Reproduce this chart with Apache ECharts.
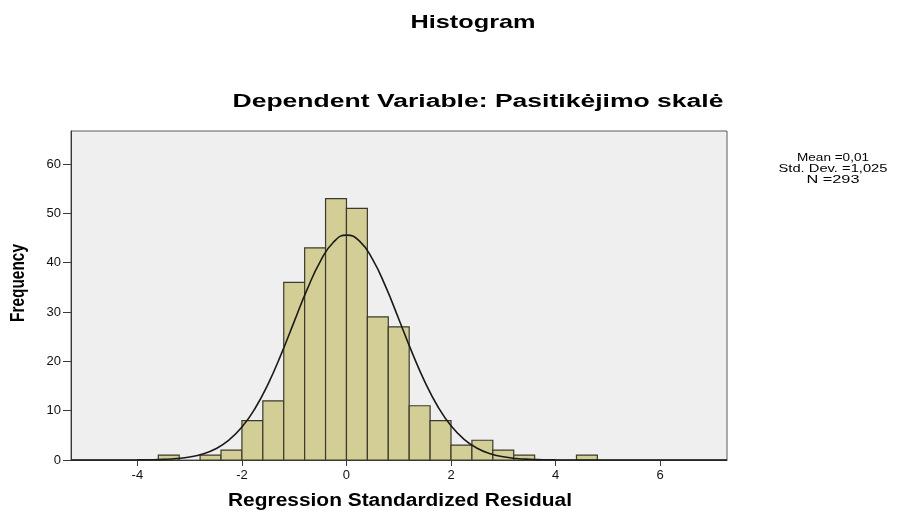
<!DOCTYPE html>
<html><head><meta charset="utf-8">
<script src="https://cdn.jsdelivr.net/npm/echarts@6/dist/echarts.min.js"></script>
<style>html,body{margin:0;padding:0;background:#fff}#c{width:908px;height:511px}</style>
</head><body><div id="c"></div>
<script>
// ---- data ----
const binStart  = [-3.6, -2.8, -2.4, -2.0, -1.6, -1.2, -0.8, -0.4, 0.0, 0.4, 0.8, 1.2, 1.6, 2.0, 2.4, 2.8, 3.2, 4.4];
const binEnd    = [-3.2, -2.4, -2.0, -1.6, -1.2, -0.8, -0.4, 0.0, 0.4, 0.8, 1.2, 1.6, 2.0, 2.4, 2.8, 3.2, 3.6, 4.8];
const frequency = [1, 1, 2, 8, 12, 36, 43, 53, 51, 29, 27, 11, 8, 3, 4, 2, 1, 1];

// normal curve
const curveX = [-5.27, -4.5, -4.25, -4.0, -3.75, -3.5, -3.25, -3.0, -2.75, -2.5, -2.25, -2.0, -1.75, -1.5, -1.25, -1.0, -0.75, -0.5, -0.25, 0.0,
                0.25, 0.5, 0.75, 1.0, 1.25, 1.5, 1.75, 2.0, 2.25, 2.5, 2.75, 3.0, 3.25, 3.5, 3.75, 4.0, 4.25, 4.5, 7.28];
const curveY = [0, 0.003, 0.008, 0.02, 0.05, 0.13, 0.29, 0.61, 1.22, 2.28, 4.01, 6.67, 10.44, 15.40, 21.42, 28.06, 34.64, 40.29, 44.15, 45.6,
                44.37, 40.67, 35.14, 28.60, 21.93, 15.85, 10.79, 6.93, 4.19, 2.39, 1.28, 0.65, 0.31, 0.14, 0.06, 0.02, 0.008, 0.003, 0];

const xTicks = [-4, -2, 0, 2, 4, 6];
const yTicks = [0, 10, 20, 30, 40, 50, 60];
const chartTitle = 'Histogram';
const chartSubtitle = 'Dependent Variable: Pasitikėjimo skalė';
const xAxisTitle = 'Regression Standardized Residual';
const yAxisTitle = 'Frequency';
const statsLines = ['Mean =0,01', 'Std. Dev. =1,025', 'N =293'];

// ---- rendering ----
const FONT = '"Liberation Sans", Arial, Helvetica, sans-serif';
const mctx = document.createElement('canvas').getContext('2d');
function measure(text, font) { mctx.font = font; return mctx.measureText(text).width; }
function stretchedText(text, size, weight, cx, cy, targetW, extra) {
  const font = weight + ' ' + size + 'px ' + FONT;
  const w = measure(text, font);
  const el = {
    type: 'text', x: cx, y: cy, silent: true,
    scaleX: targetW / w,
    style: { text: text, font: font, fill: '#000',
             textAlign: 'center', textVerticalAlign: 'middle', align: 'center', verticalAlign: 'middle' }
  };
  return Object.assign(el, extra || {});
}

const barData = binStart.map((s, i) => [s, binEnd[i], frequency[i]]);
const curveData = curveX.map((x, i) => [x, curveY[i]]);

const graphics = [
  stretchedText(chartTitle, 19, 'bold', 473, 23, 125),
  stretchedText(chartSubtitle, 18, 'bold', 478, 102, 491),
  stretchedText(xAxisTitle, 18, 'bold', 400, 501, 344)
];
(function () {
  const font = 'bold 15px ' + FONT;
  graphics.push({
    type: 'text', x: 19, y: 283, rotation: Math.PI / 2, silent: true,
    scaleX: 78 / measure(yAxisTitle, font), scaleY: 1.3,
    style: { text: yAxisTitle, font: font, fill: '#000',
             textAlign: 'center', textVerticalAlign: 'middle', align: 'center', verticalAlign: 'middle' }
  });
})();
const statTargets = [72, 109, 53];
statsLines.forEach((t, i) => {
  graphics.push(stretchedText(t, 11, 'normal', 833, 158 + i * 11, statTargets[i]));
});

const chart = echarts.init(document.getElementById('c'), null, { renderer: 'canvas' });
chart.setOption({
  animation: false,
  backgroundColor: '#ffffff',
  grid: {
    left: 71, right: 181, top: 131, bottom: 51,
    show: true, backgroundColor: '#efefef', borderColor: '#5a5a5a', borderWidth: 1
  },
  xAxis: {
    type: 'value', min: -5.27, max: 7.28,
    axisLine: { show: true, onZero: false, lineStyle: { color: '#3a3a3a', width: 1 } },
    axisTick: { show: true, customValues: xTicks, length: 6, lineStyle: { color: '#3a3a3a' } },
    axisLabel: { customValues: xTicks, fontFamily: FONT, fontSize: 13, color: '#111', margin: 9 },
    splitLine: { show: false }
  },
  yAxis: {
    type: 'value', min: 0, max: 66.7,
    axisLine: { show: true, onZero: false, lineStyle: { color: '#3a3a3a', width: 1 } },
    axisTick: { show: true, customValues: yTicks, length: 8, lineStyle: { color: '#3a3a3a' } },
    axisLabel: { customValues: yTicks, fontFamily: FONT, fontSize: 13, color: '#111', margin: 10 },
    splitLine: { show: false }
  },
  series: [
    {
      type: 'custom',
      data: barData,
      encode: { x: [0, 1], y: 2 },
      renderItem: function (params, api) {
        const p0 = api.coord([api.value(0), 0]);
        const p1 = api.coord([api.value(1), api.value(2)]);
        return {
          type: 'rect',
          shape: { x: p0[0], y: p1[1], width: p1[0] - p0[0], height: p0[1] - p1[1] },
          style: { fill: '#d3ce95', stroke: '#3b3a2c', lineWidth: 1.2 }
        };
      },
      z: 2
    },
    {
      type: 'line',
      data: curveData,
      smooth: true,
      showSymbol: false,
      lineStyle: { color: '#1a1a1a', width: 1.6 },
      z: 3
    }
  ],
  graphic: graphics
});
</script>
</body></html>
